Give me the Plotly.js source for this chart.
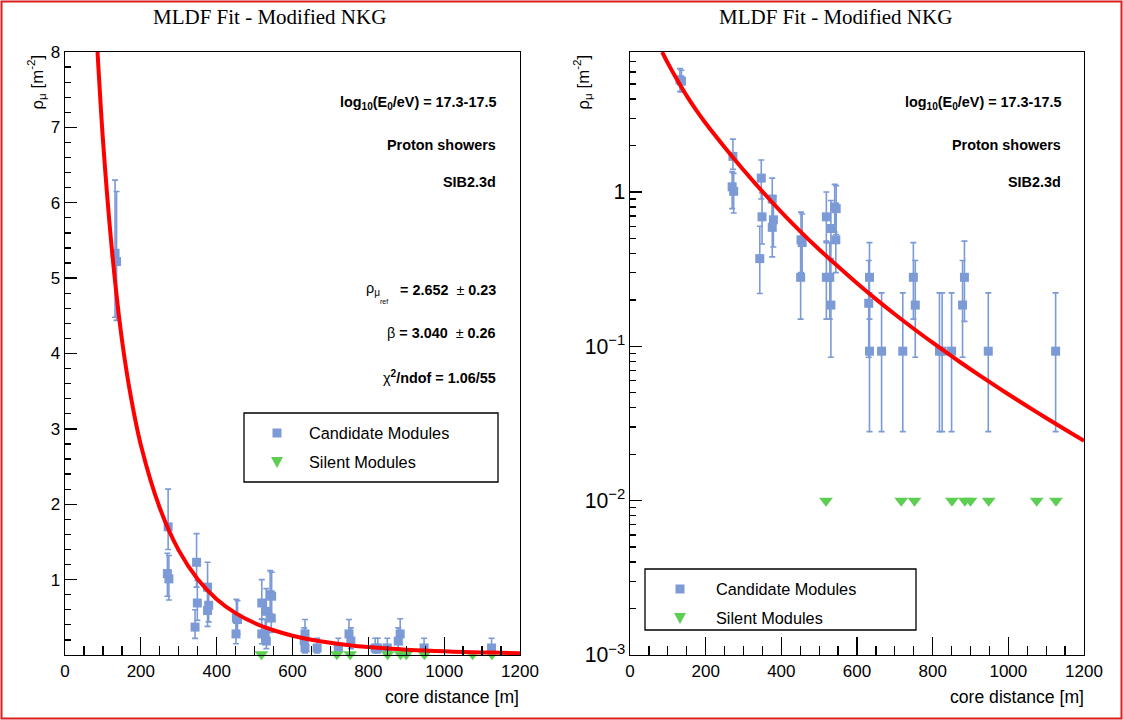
<!DOCTYPE html>
<html><head><meta charset="utf-8">
<script src="https://cdn.plot.ly/plotly-3.0.1.min.js"></script>
<style>html,body{margin:0;padding:0;background:#fff;} #chart{width:1123px;height:720px;}</style>
</head><body><div id="chart"></div>
<script>
// ---- data ----
const candX = [132,136,272,270,274,347,349,343,376,379,376,452,455,451,519,531,541,545,544,519,528,531,633,631,633,665,721,749,754,818,825,850,884,879,947,1125];
const candY = [5.33,5.22,1.70,1.08,1.01,1.23,0.69,0.37,0.90,0.66,0.59,0.49,0.47,0.28,0.69,0.58,0.80,0.78,0.49,0.28,0.28,0.185,0.28,0.19,0.093,0.093,0.093,0.28,0.185,0.093,0.093,0.093,0.28,0.185,0.093,0.093];
const candErrPlus = [0.97,0.93,0.50,0.27,0.31,0.38,0.30,0.23,0.33,0.28,0.26,0.25,0.25,0.19,0.31,0.30,0.32,0.32,0.25,0.19,0.19,0.175,0.19,0.17,0.129,0.129,0.129,0.19,0.175,0.129,0.129,0.129,0.20,0.175,0.129,0.129];
const candErrMinus = [0.85,0.78,0.30,0.30,0.28,0.33,0.23,0.15,0.27,0.22,0.21,0.19,0.19,0.13,0.21,0.21,0.25,0.25,0.19,0.13,0.13,0.10,0.13,0.105,0.065,0.065,0.065,0.13,0.10,0.065,0.065,0.065,0.135,0.10,0.065,0.065];
const silentX = [518,717,752,851,885,900,948,1075,1126];
const silentY = [0.01,0.01,0.01,0.01,0.01,0.01,0.01,0.01,0.01];
const fitX = [85,100,125,150,175,200,250,300,350,400,450,500,550,600,650,700,750,800,850,900,950,1000,1050,1100,1150,1200];
const fitY = [8.07,6.84,5.31,4.19,3.39,2.786,1.950,1.388,1.006,0.741,0.556,0.424,0.3285,0.2562,0.2023,0.1614,0.130,0.1056,0.0863,0.0710,0.0588,0.0489,0.0409,0.0343,0.0289,0.0244];
const linYTicks = [1,2,3,4,5,6,7,8];
const xTicks = [0,200,400,600,800,1000,1200];
const chartTitle = 'MLDF Fit - Modified NKG';
const infoLines = ['log<sub>10</sub>(E<sub>0</sub>/eV) = 17.3-17.5','Proton showers','SIB2.3d'];
const legendNames = ['Candidate Modules','Silent Modules'];

// ---- styling ----
const W = 1123, H = 720;
const px = v => v / W, py = v => 1 - v / H;
const BLUE = '#7b9ad6', GREEN = '#5ccf52', RED = '#ff0000';
const FONT = 'Liberation Sans, Arial, sans-serif';
const SERIF = 'Liberation Serif, Times New Roman, serif';
const INFO = 14.4;

function cand(xa, ya) {
  return {x: candX, y: candY, xaxis: xa, yaxis: ya, type: 'scatter', mode: 'markers',
    marker: {symbol: 'square', size: 9, color: BLUE},
    error_y: {type: 'data', symmetric: false, array: candErrPlus, arrayminus: candErrMinus,
      color: BLUE, thickness: 1.6, width: 3},
    showlegend: false, cliponaxis: false, name: legendNames[0]};
}
function silent(xa, ya) {
  return {x: silentX, y: silentY, xaxis: xa, yaxis: ya, type: 'scatter', mode: 'markers',
    marker: {symbol: 'triangle-down', size: 12, color: GREEN},
    showlegend: false, cliponaxis: false, name: legendNames[1]};
}
function fit(xa, ya) {
  return {x: fitX, y: fitY, xaxis: xa, yaxis: ya, type: 'scatter', mode: 'lines',
    line: {color: RED, width: 4, shape: 'spline', smoothing: 0.8},
    showlegend: false, name: 'fit'};
}
const data = [cand('x','y'), silent('x','y'), fit('x','y'), cand('x2','y2'), silent('x2','y2'), fit('x2','y2')];

const axBase = {showline: true, linecolor: 'black', linewidth: 1.3, mirror: true, ticks: 'inside',
  tickcolor: 'black', tickwidth: 1.3, showgrid: false, zeroline: false, fixedrange: true,
  tickfont: {family: FONT, size: 17, color: 'black'}};
const yDom = [py(655), py(52)];
const xAxisCfg = dom => Object.assign({}, axBase, {domain: dom, range: [0, 1200], tickmode: 'array',
  tickvals: xTicks, ticklen: 18,
  minor: {ticks: 'inside', ticklen: 9, dtick: 50, tick0: 0, tickcolor: 'black', tickwidth: 1.3}});

const layout = {
  width: W, height: H, margin: {l: 0, r: 0, t: 0, b: 0}, paper_bgcolor: 'white', plot_bgcolor: 'white',
  font: {family: FONT, color: 'black'}, showlegend: false,
  xaxis: Object.assign(xAxisCfg([px(65), px(520)]), {anchor: 'y'}),
  xaxis2: Object.assign(xAxisCfg([px(630), px(1084)]), {anchor: 'y2'}),
  yaxis: Object.assign({}, axBase, {domain: yDom, anchor: 'x', range: [0, 8], tickmode: 'array',
    tickvals: linYTicks, ticklen: 12,
    minor: {ticks: 'inside', ticklen: 6, dtick: 0.2, tick0: 0, tickcolor: 'black', tickwidth: 1.3}}),
  yaxis2: Object.assign({}, axBase, {domain: yDom, anchor: 'x2', type: 'log', range: [-3, Math.log10(8.07)],
    dtick: 1, exponentformat: 'power', ticklen: 12,
    minor: {ticks: 'inside', ticklen: 6, dtick: 'D1', tickcolor: 'black', tickwidth: 1.3}}),
  annotations: [],
  shapes: []
};
const A = layout.annotations, S = layout.shapes;
function ann(text, x, y, opts) {
  A.push(Object.assign({text: text, x: px(x), y: py(y), xref: 'paper', yref: 'paper', showarrow: false,
    xanchor: 'right', yanchor: 'middle', font: {family: FONT, size: INFO, color: 'black'}}, opts || {}));
}
// titles
ann(chartTitle, 269, 17, {xanchor: 'center', font: {family: SERIF, size: 21, color: 'black'}});
ann(chartTitle, 835, 17, {xanchor: 'center', font: {family: SERIF, size: 21, color: 'black'}});
// axis titles
ann('ρ<sub>μ</sub> [m<sup>-2</sup>]', 37, 53, {xanchor: 'center', yanchor: 'top', textangle: -90, font: {family: FONT, size: 16.8, color: 'black'}});
ann('ρ<sub>μ</sub> [m<sup>-2</sup>]', 583, 53, {xanchor: 'center', yanchor: 'top', textangle: -90, font: {family: FONT, size: 16.8, color: 'black'}});
ann('core distance [m]', 521, 697, {font: {family: FONT, size: 17.6, color: 'black'}});
ann('core distance [m]', 1086, 697, {font: {family: FONT, size: 17.6, color: 'black'}});
// info texts
[498, 1063].forEach(xr => {
  ann('<b>' + infoLines[0] + '</b>', xr, 103);
  ann('<b>' + infoLines[1] + '</b>', xr, 145);
  ann('<b>' + infoLines[2] + '</b>', xr, 182);
});
ann('<b>= 2.652</b>&nbsp;&nbsp;±<b> 0.23</b>', 498, 290);
ann('ρ<sub>μ</sub>', 382, 289);
ann('ref', 384, 301, {xanchor: 'center', font: {family: FONT, size: 7, color: 'black'}});
ann('β <b>= 3.040</b>&nbsp;&nbsp;±<b> 0.26</b>', 498, 333);
ann('χ<b><sup>2</sup>/ndof = 1.06/55</b>', 498, 377);

// legends (drawn boxes)
function legendBox(x0, y0, x1, y1, mx, tx, r1, r2) {
  S.push({type: 'rect', xref: 'paper', yref: 'paper', x0: px(x0), x1: px(x1), y0: py(y1), y1: py(y0),
    line: {color: 'black', width: 1.3}, fillcolor: 'white', layer: 'above'});
  S.push({type: 'rect', xref: 'paper', yref: 'paper', x0: px(mx - 4.5), x1: px(mx + 4.5), y0: py(r1 + 4.5), y1: py(r1 - 4.5),
    line: {width: 0}, fillcolor: BLUE, layer: 'above'});
  S.push({type: 'path', xref: 'paper', yref: 'paper',
    path: 'M' + px(mx - 6) + ',' + py(r2 - 5) + ' L' + px(mx + 6) + ',' + py(r2 - 5) + ' L' + px(mx) + ',' + py(r2 + 6) + ' Z',
    line: {width: 0}, fillcolor: GREEN, layer: 'above'});
  ann(legendNames[0], tx, r1, {xanchor: 'left', font: {family: FONT, size: 16.3, color: 'black'}});
  ann(legendNames[1], tx, r2, {xanchor: 'left', font: {family: FONT, size: 16.3, color: 'black'}});
}
legendBox(244, 413, 498, 482, 277, 307, 433, 462);
legendBox(645, 569, 916, 630, 680, 714, 589, 618);

// canvas border
S.push({type: 'rect', xref: 'paper', yref: 'paper', x0: px(1.5), x1: px(1121.5), y0: py(718.5), y1: py(1.5),
  line: {color: 'rgb(220,30,30)', width: 2}, layer: 'above'});

Plotly.newPlot('chart', data, layout, {staticPlot: true, displayModeBar: false});
</script></body></html>
